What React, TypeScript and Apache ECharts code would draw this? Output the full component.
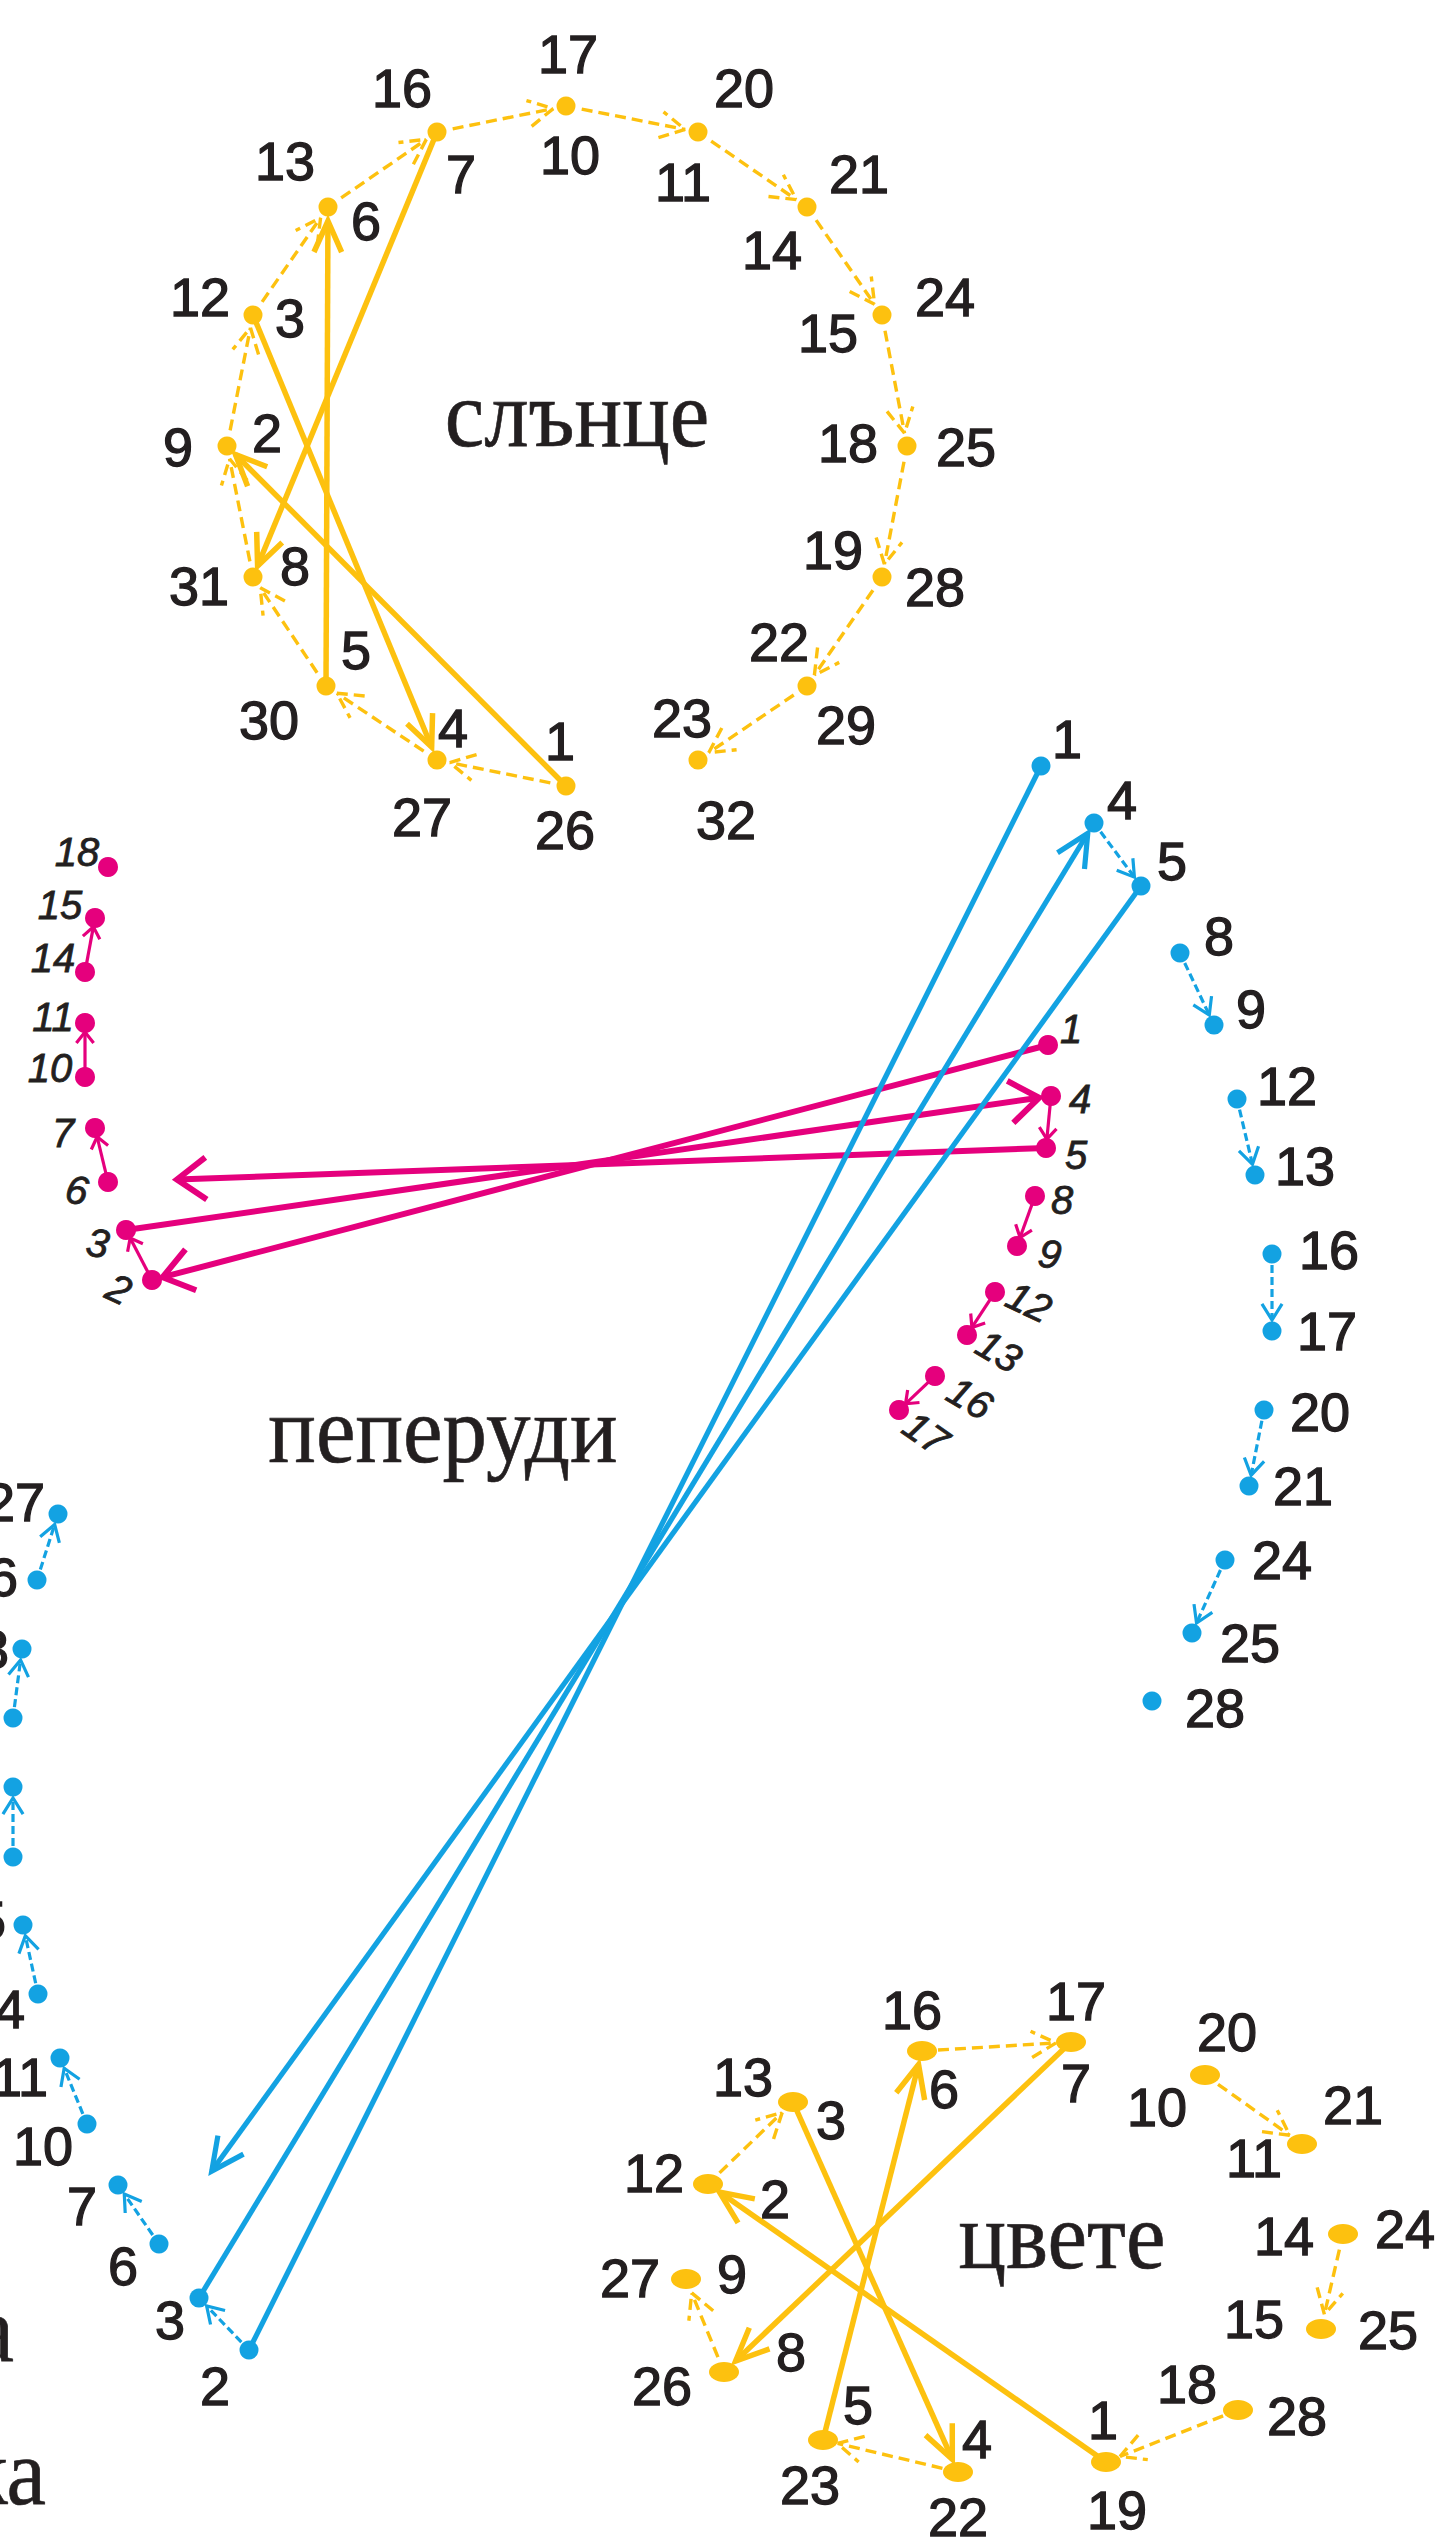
import React, { useEffect, useRef } from "react";
import * as echarts from "echarts";

// ================= DATA =================
// Sun ("слънце"): 16 dots on a ring; every dot carries two numbers.
const sunX = [566, 437, 326, 253, 227, 253, 328, 437, 566, 698, 807, 882, 907, 882, 807, 698];
const sunY = [786, 760, 686, 577, 446, 315, 207, 132, 106, 132, 207, 315, 446, 577, 686, 760];
// dot index that carries number n (n = 1..32)
const sunDotOfNumber = [0, 4, 5, 1, 2, 6, 7, 3, 4, 8, 9, 5, 6, 10, 11, 7, 8, 12, 13, 9, 10, 14, 15, 11, 12, 0, 1, 13, 14, 2, 3, 15];
const sunSolid = [[1, 2], [3, 4], [5, 6], [7, 8]];
const sunDashed = [[2, 3], [4, 5], [6, 7], [8, 9], [10, 11], [12, 13], [14, 15], [16, 17], [18, 19], [20, 21], [22, 23], [24, 25], [26, 27], [28, 29], [30, 31]];

// Butterflies ("пеперуди") pink, numbers 1..18
const pinkX = [1048, 152, 126, 1051, 1046, 108, 95, 1035, 1017, 85, 85, 995, 967, 85, 95, 935, 899, 108];
const pinkY = [1045, 1280, 1230, 1096, 1148, 1182, 1128, 1196, 1246, 1077, 1023, 1292, 1335, 972, 918, 1376, 1410, 867];
const pinkSolid = [[1, 2], [3, 4], [5, 6]];
const pinkDashed = [[2, 3], [4, 5], [6, 7], [8, 9], [10, 11], [12, 13], [14, 15], [16, 17]];

// Butterflies blue, numbers 1..28
const blueX = [1041, 249, 199, 1094, 1141, 159, 118, 1180, 1214, 87, 60, 1237, 1255, 38, 23, 1272, 1272, 13, 13, 1264, 1249, 13, 22, 1225, 1192, 37, 58, 1152];
const blueY = [766, 2350, 2298, 823, 886, 2244, 2185, 953, 1025, 2124, 2058, 1099, 1175, 1994, 1925, 1254, 1331, 1857, 1787, 1410, 1486, 1718, 1649, 1560, 1633, 1580, 1514, 1701];
const blueSolid = [[1, 2], [3, 4], [5, 6]];
const blueDashed = [[2, 3], [4, 5], [6, 7], [8, 9], [10, 11], [12, 13], [14, 15], [16, 17], [18, 19], [20, 21], [22, 23], [24, 25], [26, 27]];

// Flowers ("цвете"): 14 dots, numbers 1..28
const flowerX = [1106, 708, 793, 958, 823, 922, 1071, 724, 686, 1205, 1302, 1343, 1321, 1238];
const flowerY = [2462, 2184, 2102, 2472, 2440, 2051, 2042, 2372, 2279, 2075, 2144, 2234, 2329, 2410];
const flowerDotOfNumber = [0, 1, 2, 3, 4, 5, 6, 7, 8, 9, 10, 1, 2, 11, 12, 5, 6, 13, 0, 9, 10, 3, 4, 11, 12, 7, 8, 13];
const flowerSolid = [[1, 2], [3, 4], [5, 6], [7, 8]];
const flowerDashed = [[2, 3], [4, 5], [6, 7], [8, 9], [10, 11], [14, 15], [18, 19]];

const titles = ["слънце", "пеперуди", "цвете"];
const cutWords = ["а", "ка"];

// ================= LAYOUT / STYLE =================
const sunLabelOffset = [
  [-6, -45], [40, -13], [37, 3], [16, -32], [30, -36], [38, 14], [24, 42], [42, -11],
  [-49, 1], [4, 49], [-15, 50], [-53, -18], [-43, -46], [-35, 43], [-54, 18], [-35, -44],
  [2, -52], [-59, -3], [-49, -27], [46, -44], [52, -33], [-28, -44], [-16, -42], [63, -18],
  [59, 1], [-1, 44], [-15, 57], [53, 10], [39, 39], [-57, 34], [-54, 9], [28, 60],
];
const pinkLabelOffset = [
  [23, -16], [-33, 9], [-28, 13], [29, 3], [30, 7], [-31, 8], [-32, 5], [27, 4], [33, 8],
  [-35, -9], [-32, -6], [34, 10], [32, 16], [-32, -14], [-35, -13], [35, 22], [27, 23], [-31, -15],
];
const pinkLabelRot = [0, -25, -10, 0, 0, -10, 0, 0, -10, 0, 0, -25, -30, 0, 0, -30, -35, 0];
const blueLabelOffset = [
  [26, -27], [-34, 36], [-29, 22], [28, -23], [31, -25], [-36, 22], [-36, 21], [39, -17], [37, -16],
  [-44, 22], [-40, 19], [50, -13], [50, -9], [-43, 15], [-47, -5], [57, -4], [55, 0], [-45, 0],
  [-45, 0], [56, 2], [54, 0], [-45, 0], [-43, 0], [57, 0], [58, 10], [-49, -3], [-43, -12], [63, 7],
];
const flowerLabelOffset = [
  [-3, -42], [67, 15], [38, 18], [19, -33], [35, -35], [22, 38], [5, 41], [67, -20], [46, -5],
  [-48, 32], [-48, 14], [-54, -11], [-50, -25], [-59, 2], [-67, -10], [-10, -41], [5, -41],
  [-51, -26], [11, 48], [22, -43], [51, -39], [0, 45], [-13, 45], [62, -5], [67, 1], [-62, 14],
  [-56, -1], [59, 6],
];

const YELLOW = "#FDC10F";
const PINK = "#E5007D";
const BLUE = "#13A2E2";
const INK = "#231F20";
const NUM_FONT = "'Liberation Sans', Arial, Helvetica, sans-serif";
const SERIF = "'Liberation Serif', 'Times New Roman', serif";

type ArrowStyle = {
  color: string;
  width: number;
  dash?: number[];
  startGap: number;
  endGaps: number[] | number;
  heads: boolean[] | boolean;
  headLen: number;
  headAngle: number;
  dashedHead?: boolean;
};

function arrowSeries(xs: number[], ys: number[], links: number[][], st: ArrowStyle, z: number) {
  const data = links.map(([a, b]) => [xs[a - 1], ys[a - 1], xs[b - 1], ys[b - 1]]);
  return {
    type: "custom",
    coordinateSystem: "cartesian2d",
    z,
    silent: true,
    encode: { x: [0, 2], y: [1, 3] },
    data,
    renderItem: (params: any, api: any) => {
      const i = params.dataIndex;
      const a = api.coord([api.value(0), api.value(1)]);
      const b = api.coord([api.value(2), api.value(3)]);
      const dx = b[0] - a[0];
      const dy = b[1] - a[1];
      const L = Math.hypot(dx, dy) || 1;
      const ux = dx / L;
      const uy = dy / L;
      const eg = Array.isArray(st.endGaps) ? st.endGaps[i] : st.endGaps;
      const head = Array.isArray(st.heads) ? st.heads[i] : st.heads;
      const s = [a[0] + ux * st.startGap, a[1] + uy * st.startGap];
      const e = [b[0] - ux * eg, b[1] - uy * eg];
      const lineStyle: any = { stroke: st.color, lineWidth: st.width, fill: "none", lineCap: "butt", lineJoin: "miter" };
      if (st.dash) lineStyle.lineDash = st.dash;
      const children: any[] = [
        { type: "line", shape: { x1: s[0], y1: s[1], x2: e[0], y2: e[1] }, style: lineStyle },
      ];
      if (head) {
        const ang = Math.atan2(uy, ux);
        const t = (st.headAngle * Math.PI) / 180;
        const h = st.headLen;
        const p1 = [e[0] - h * Math.cos(ang - t), e[1] - h * Math.sin(ang - t)];
        const p2 = [e[0] - h * Math.cos(ang + t), e[1] - h * Math.sin(ang + t)];
        const hs: any = { stroke: st.color, lineWidth: st.width, fill: "none", lineJoin: "miter", lineCap: "butt" };
        if (st.dash && st.dashedHead) hs.lineDash = st.dash;
        children.push({ type: "polyline", shape: { points: [p1, e, p2] }, style: hs });
      }
      return { type: "group", children };
    },
  };
}

function dotSeries(xs: number[], ys: number[], color: string, size: any, symbol: string, z: number) {
  return {
    type: "scatter",
    z,
    silent: true,
    symbol,
    symbolSize: size,
    itemStyle: { color, opacity: 1 },
    data: xs.map((x, i) => [x, ys[i]]),
  };
}

type Lbl = { x: number; y: number; text: string; dx: number; dy: number; rot: number };

function labelSeries(labels: Lbl[], fontSize: number, italic: boolean, z: number) {
  return {
    type: "custom",
    coordinateSystem: "cartesian2d",
    z,
    silent: true,
    encode: { x: 0, y: 1 },
    data: labels.map((l) => [l.x, l.y]),
    renderItem: (params: any, api: any) => {
      const l = labels[params.dataIndex];
      const p = api.coord([api.value(0), api.value(1)]);
      return {
        type: "text",
        x: p[0] + l.dx,
        y: p[1] + l.dy,
        rotation: (l.rot * Math.PI) / 180,
        style: {
          text: l.text,
          fontSize,
          fontFamily: NUM_FONT,
          fontStyle: italic ? "italic" : "normal",
          fill: INK,
          stroke: INK,
          lineWidth: italic ? 0.8 : 1.3,
          align: "center",
          verticalAlign: "middle",
        },
      };
    },
  };
}

function buildLabels(
  count: number,
  xOf: (n: number) => number,
  yOf: (n: number) => number,
  offs: number[][],
  rots?: number[]
): Lbl[] {
  const out: Lbl[] = [];
  for (let n = 1; n <= count; n++) {
    out.push({ x: xOf(n), y: yOf(n), text: String(n), dx: offs[n - 1][0], dy: offs[n - 1][1], rot: rots ? rots[n - 1] : 0 });
  }
  return out;
}

function uniqueLinks(links: number[][], dotOf: (n: number) => number) {
  const seen = new Set<string>();
  return links.filter(([a, b]) => {
    const k = dotOf(a) + "-" + dotOf(b);
    if (seen.has(k)) return false;
    seen.add(k);
    return true;
  });
}

const ELLIPSE = "path://M0,5 A5,5 0 1,0 10,5 A5,5 0 1,0 0,5 Z";

function title(text: string, x: number, y: number, align: string) {
  return {
    type: "text",
    x,
    y,
    scaleY: 1.08,
    z: 5,
    style: {
      text,
      fontSize: 89,
      fontFamily: SERIF,
      fill: INK,
      stroke: INK,
      lineWidth: 0.6,
      align,
      verticalAlign: "middle",
    },
  };
}

export default function App() {
  const ref = useRef<HTMLDivElement>(null);

  useEffect(() => {
    if (!ref.current) return;
    const chart = echarts.init(ref.current, undefined, { renderer: "svg" });

    const sunNX = sunDotOfNumber.map((d) => sunX[d]);
    const sunNY = sunDotOfNumber.map((d) => sunY[d]);
    const flNX = flowerDotOfNumber.map((d) => flowerX[d]);
    const flNY = flowerDotOfNumber.map((d) => flowerY[d]);

    const sunDash = uniqueLinks(sunDashed, (n) => sunDotOfNumber[n - 1]);
    const flDash = uniqueLinks(flowerDashed, (n) => flowerDotOfNumber[n - 1]);

    const sunLabels = buildLabels(32, (n) => sunNX[n - 1], (n) => sunNY[n - 1], sunLabelOffset);
    const pinkLabels = buildLabels(18, (n) => pinkX[n - 1], (n) => pinkY[n - 1], pinkLabelOffset, pinkLabelRot);
    const blueLabels = buildLabels(28, (n) => blueX[n - 1], (n) => blueY[n - 1], blueLabelOffset);
    const flLabels = buildLabels(28, (n) => flNX[n - 1], (n) => flNY[n - 1], flowerLabelOffset);

    const option: any = {
      animation: false,
      backgroundColor: "#ffffff",
      grid: { left: 0, right: 0, top: 0, bottom: 0, containLabel: false },
      xAxis: { type: "value", min: 0, max: 1444, show: false },
      yAxis: { type: "value", min: 0, max: 2537, inverse: true, show: false },
      graphic: [
        title(titles[0], 577, 413, "center"),
        title(titles[1], 443, 1429, "center"),
        title(titles[2], 1062, 2235, "center"),
        title(cutWords[0], 14, 2328, "right"),
        title(cutWords[1], 46, 2471, "right"),
      ],
      series: [
        // sun
        arrowSeries(sunNX, sunNY, sunDash, {
          color: YELLOW, width: 3.4, dash: [11, 6], startGap: 16, endGaps: 13, heads: true,
          headLen: 28, headAngle: 28, dashedHead: true,
        }, 2),
        arrowSeries(sunNX, sunNY, sunSolid, {
          color: YELLOW, width: 5.5, startGap: 0, endGaps: [12, 14, 14, 12], heads: true,
          headLen: 34, headAngle: 24,
        }, 3),
        dotSeries(sunX, sunY, YELLOW, 19, "circle", 4),
        labelSeries(sunLabels, 54, false, 6),

        // pink butterflies
        arrowSeries(pinkX, pinkY, pinkDashed, {
          color: PINK, width: 3.2, startGap: 9, endGaps: 9, heads: true, headLen: 14, headAngle: 38,
        }, 2),
        arrowSeries(pinkX, pinkY, pinkSolid, {
          color: PINK, width: 6, startGap: 0, endGaps: [11, 12, 69], heads: true, headLen: 36, headAngle: 36,
        }, 3),
        dotSeries(pinkX, pinkY, PINK, 20, "circle", 4),
        labelSeries(pinkLabels, 40, true, 6),

        // blue butterflies
        arrowSeries(blueX, blueY, blueDashed, {
          color: BLUE, width: 3.2, dash: [8, 4], startGap: 11, endGaps: 11, heads: true, headLen: 19, headAngle: 32,
        }, 2),
        arrowSeries(blueX, blueY, blueSolid, {
          color: BLUE, width: 5.2, startGap: 0, endGaps: [0, 12, 90], heads: [false, true, true], headLen: 36, headAngle: 26,
        }, 3),
        dotSeries(blueX, blueY, BLUE, 19, "circle", 4),
        labelSeries(blueLabels, 54, false, 6),

        // flowers
        arrowSeries(flNX, flNY, flDash, {
          color: YELLOW, width: 3.4, dash: [11, 6], startGap: 16, endGaps: 15, heads: true,
          headLen: 28, headAngle: 28, dashedHead: true,
        }, 2),
        arrowSeries(flNX, flNY, flowerSolid, {
          color: YELLOW, width: 5.5, startGap: 0, endGaps: [14, 14, 14, 16], heads: true, headLen: 36, headAngle: 24,
        }, 3),
        dotSeries(flowerX, flowerY, YELLOW, [30, 20], ELLIPSE, 4),
        labelSeries(flLabels, 54, false, 6),
      ],
    };

    chart.setOption(option);
    return () => {
      chart.dispose();
    };
  }, []);

  return (
    <div
      ref={ref}
      style={{ position: "absolute", left: 0, top: 0, width: 1444, height: 2537, background: "#ffffff" }}
    />
  );
}
